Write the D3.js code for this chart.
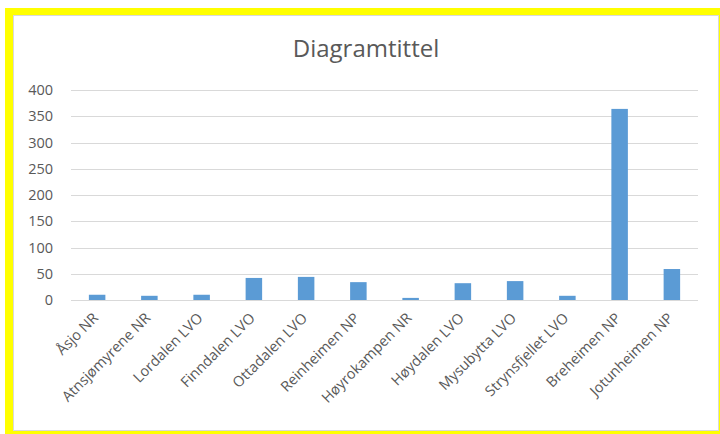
<!DOCTYPE html>
<html>
<head>
<meta charset="utf-8">
<script src="https://cdn.jsdelivr.net/npm/d3@7"></script>
<style>
  body { margin: 0; background: #fff; }
  svg { display: block; font-family: "Open Sans", sans-serif; }
</style>
</head>
<body>
<div id="okvir"></div>
<script>
// podaci
const kategorije = ["Åsjo NR", "Atnsjømyrene NR", "Lordalen LVO", "Finndalen LVO", "Ottadalen LVO",
  "Reinheimen NP", "Høyrokampen NR", "Høydalen LVO", "Mysubytta LVO", "Strynsfjellet LVO",
  "Breheimen NP", "Jotunheimen NP"]
const vrijednosti = [10, 8, 10, 42, 44, 34, 4, 32, 36, 8, 364, 59]
const yTickovi = [0, 50, 100, 150, 200, 250, 300, 350, 400]
const naslov = "Diagramtittel"

const dimenzije = {
  sirina: 720,
  visina: 434,
  margine: { top: 90, right: 22, bottom: 134, left: 71 },
}
dimenzije.grSirina = dimenzije.sirina - dimenzije.margine.left - dimenzije.margine.right
dimenzije.grVisina = dimenzije.visina - dimenzije.margine.top - dimenzije.margine.bottom

const okvir = d3.select("#okvir").append("svg")
  .attr("width", dimenzije.sirina)
  .attr("height", dimenzije.visina)

// zuti okvir
okvir.append("rect")
  .attr("x", 5).attr("y", 8)
  .attr("width", 715).attr("height", 426)
  .attr("fill", "#ffff00")
okvir.append("rect")
  .attr("x", 13.5).attr("y", 15.5)
  .attr("width", 705).attr("height", 415)
  .attr("fill", "#fff")
  .attr("stroke", "#d9d9d9")

okvir.append("text")
  .attr("x", 366)
  .attr("y", 57)
  .attr("text-anchor", "middle")
  .attr("fill", "#595959")
  .style("font-size", "24px")
  .text(naslov)

const granice = okvir.append("g")
  .attr("transform", `translate(${dimenzije.margine.left}, ${dimenzije.margine.top})`)

const xSkala = d3.scaleBand()
  .domain(kategorije)
  .range([0, dimenzije.grSirina])
  .paddingInner(0.684)
  .paddingOuter(0.342)

const ySkala = d3.scaleLinear()
  .domain([0, 400])
  .range([dimenzije.grVisina, 0])

// mreza
granice.append("g")
  .selectAll("line")
  .data(yTickovi)
  .join("line")
  .attr("x1", 0)
  .attr("x2", dimenzije.grSirina)
  .attr("y1", d => Math.round(ySkala(d)) + 0.5)
  .attr("y2", d => Math.round(ySkala(d)) + 0.5)
  .attr("stroke", "#d9d9d9")
  .attr("stroke-width", 1)

// stupci
granice.append("g")
  .selectAll("rect")
  .data(vrijednosti)
  .join("rect")
  .attr("x", (d, i) => xSkala(kategorije[i]))
  .attr("y", d => ySkala(d))
  .attr("width", xSkala.bandwidth())
  .attr("height", d => dimenzije.grVisina - ySkala(d))
  .attr("fill", "#5b9bd5")

// y os
const yOs = granice.append("g")
  .call(d3.axisLeft(ySkala).tickValues(yTickovi).tickSize(0).tickPadding(18))
yOs.select(".domain").remove()
yOs.selectAll("text")
  .attr("fill", "#595959")
  .style("font-size", "14.5px")
  .style("font-family", "Open Sans, sans-serif")

// x os
const xOs = granice.append("g")
  .attr("transform", `translate(0, ${dimenzije.grVisina})`)
  .call(d3.axisBottom(xSkala).tickSize(0))
xOs.select(".domain").remove()
xOs.selectAll("text")
  .attr("fill", "#595959")
  .style("font-size", "14.5px")
  .style("font-family", "Open Sans, sans-serif")
  .attr("text-anchor", "end")
  .attr("dy", 0)
  .attr("y", 0)
  .attr("transform", "translate(2, 19) rotate(-45)")
</script>
</body>
</html>
